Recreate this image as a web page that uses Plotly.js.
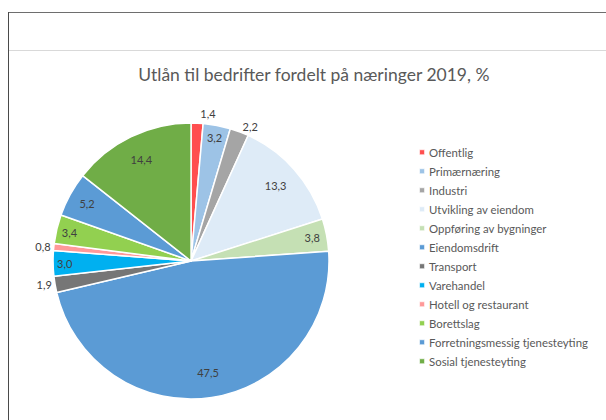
<!DOCTYPE html>
<html>
<head>
<meta charset="utf-8">
<script src="https://cdn.plot.ly/plotly-3.0.1.min.js"></script>
<style>
html,body{margin:0;padding:0;background:#fff;}
#wrap{position:relative;width:606px;height:420px;overflow:hidden;}
#chart{position:absolute;left:0;top:0;width:606px;height:420px;}
#chart path.textline{display:none;}
.frameTop{position:absolute;left:8px;top:12px;width:600px;height:0;border-top:1.5px solid #6e6e6e;pointer-events:none;}
.frameLeft{position:absolute;left:8px;top:12px;width:0;height:420px;border-left:1.5px solid #4a4a4a;pointer-events:none;}
.frameInner{position:absolute;left:9px;top:50px;width:600px;height:0;border-top:1px solid #d9d9d9;pointer-events:none;}
</style>
</head>
<body>
<div id="wrap">
<div id="chart"></div>
<div class="frameTop"></div>
<div class="frameLeft"></div>
<div class="frameInner"></div>
</div>
<script>
const categories = ["Offentlig","Primærnæring","Industri","Utvikling av eiendom","Oppføring av bygninger","Eiendomsdrift","Transport","Varehandel","Hotell og restaurant","Borettslag","Forretningsmessig tjenesteyting","Sosial tjenesteyting"];
const values = [1.4, 3.2, 2.2, 13.3, 3.8, 47.5, 1.9, 3.0, 0.8, 3.4, 5.2, 14.4];
const colors = ["#FF4F4F","#9DC3E6","#A5A5A5","#DEEBF7","#C5E0B4","#5B9BD5","#767676","#00B0F0","#FF9999","#92D050","#5B9BD5","#70AD47"];
const labelPlacement = ["outside","inside","outside","inside","inside","inside","outside","inside","outside","inside","inside","inside"];
const chartTitle = "Utlån til bedrifter fordelt på næringer 2019, %";

const fontFam = "Lato, 'Open Sans', sans-serif";
const pieDomain = {x: [0.0875, 0.543], y: [0.05, 0.707]};

// Main pie: the coloured slices and the legend
const slices = {
  type: "pie",
  labels: categories,
  values: values,
  sort: false,
  direction: "clockwise",
  rotation: 0,
  marker: {colors: colors, line: {color: "#ffffff", width: 1.5}},
  textinfo: "none",
  domain: pieDomain,
  hoverinfo: "label+value"
};

// Transparent ring on top carrying the data labels near the rim (like Excel)
const labelRing = {
  type: "pie",
  labels: categories,
  values: values,
  sort: false,
  direction: "clockwise",
  rotation: 0,
  hole: 0.64,
  showlegend: false,
  marker: {colors: categories.map(() => "rgba(0,0,0,0)"), line: {width: 0}},
  texttemplate: "%{value:.1f}",
  textposition: labelPlacement,
  insidetextorientation: "horizontal",
  insidetextfont: {family: fontFam, size: 11, color: "#404040"},
  outsidetextfont: {family: fontFam, size: 11, color: "#404040"},
  textfont: {family: fontFam, size: 11, color: "#404040"},
  domain: pieDomain,
  hoverinfo: "skip"
};

const layout = {
  width: 606, height: 420,
  margin: {l: 0, r: 0, t: 0, b: 0},
  paper_bgcolor: "#ffffff",
  separators: ", ",
  showlegend: true,
  title: {text: chartTitle, x: 0.518, xanchor: "center", y: 0.822, yanchor: "middle",
          font: {family: fontFam, size: 17.5, color: "#595959"}},
  legend: {x: 0.642, xanchor: "left", y: 0.672, yanchor: "top", traceorder: "normal",
           font: {family: fontFam, size: 11.4, color: "#595959"},
           bgcolor: "rgba(0,0,0,0)"}
};

Plotly.newPlot("chart", [slices, labelRing], layout, {displayModeBar: false, staticPlot: true}).then(function(gd){
  document.querySelectorAll("#chart .legend .legendpoints path").forEach(function(p){
    p.setAttribute("transform", "translate(33,0) scale(0.42)");
  });
});
</script>
</body>
</html>
